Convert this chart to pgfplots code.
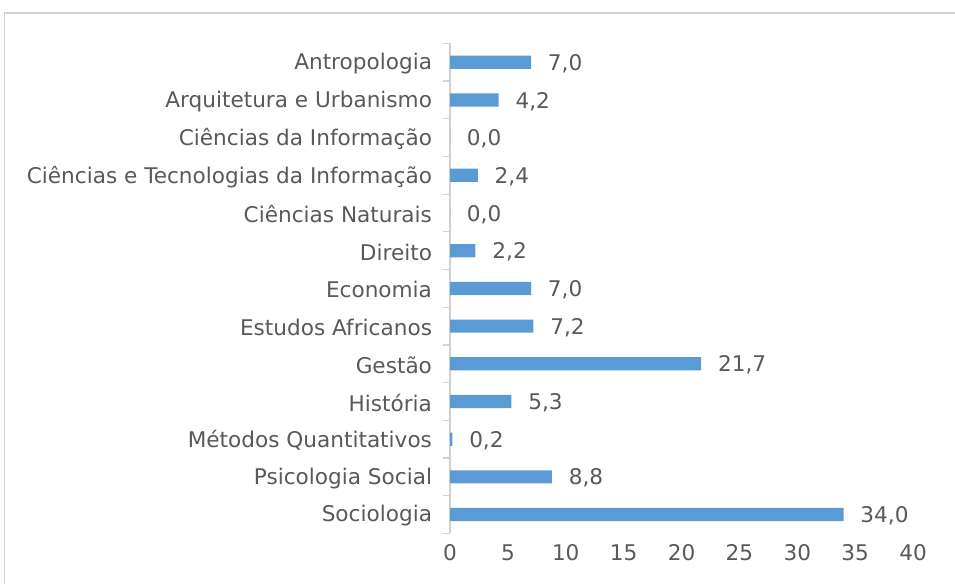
\documentclass[border=0pt]{standalone}
\usepackage{pgfplots}
\pgfplotsset{compat=1.18}
\usepackage{fontspec}
\setmainfont{DejaVu Sans}
\definecolor{barblue}{HTML}{5B9BD5}
\definecolor{txtgray}{HTML}{595959}
\definecolor{linegray}{HTML}{D0D0D0}
\begin{document}
\begin{tikzpicture}
\path[use as bounding box] (0,0) rectangle (716.25pt,437.25pt);
\clip (0,0) rectangle (716.25pt,437.25pt);
\draw[linegray, line width=1pt] (3.4pt,-10pt) -- (3.4pt,427.5pt) -- (730pt,427.5pt);
\begin{axis}[
  at={(337.5pt,37.2pt)}, anchor=south west,
  scale only axis, width=347.25pt, height=367.5pt,
  xmin=0, xmax=40, ymin=-0.5, ymax=12.5,
  y dir=reverse,
  xbar, bar width=0.35,
  axis y line*=left, axis x line*=bottom,
  x axis line style={draw=none},
  y axis line style={linegray, line width=0.9pt},
  xtick={0,5,...,40},
  ytick={0,...,12},
  yticklabels={Antropologia,Arquitetura e Urbanismo,Ciências da Informação,Ciências e Tecnologias da Informação,Ciências Naturais,Direito,Economia,Estudos Africanos,Gestão,História,Métodos Quantitativos,Psicologia Social,Sociologia},
  minor ytick={-0.5,0.5,...,12.5},
  major tick length=0pt,
  minor tick length=5.25pt,
  tick align=outside,
  minor tick style={linegray, line width=0.9pt},
  tick label style={font=\fontsize{16.2}{19}\selectfont, text=txtgray},
  yticklabel style={xshift=-10pt, yshift=-1pt},
  xticklabel style={yshift=-4.5pt, text height=12pt, text depth=0pt},
  /pgf/number format/assume math mode=true,
  nodes near coords={\pgfmathprintnumber[fixed,fixed zerofill,precision=1,use comma,assume math mode=true]{\pgfplotspointmeta}},
  every node near coord/.append style={font=\fontsize{16.2}{19}\selectfont, text=txtgray, anchor=west, inner sep=0pt, xshift=12.5pt, yshift=-1pt},
  clip=false,
]
\addplot[fill=barblue, draw=none] coordinates {
(7.0,0) (4.2,1) (0.0,2) (2.4,3) (0.0,4) (2.2,5) (7.0,6) (7.2,7) (21.7,8) (5.3,9) (0.2,10) (8.8,11) (34.0,12)
};
\end{axis}
\end{tikzpicture}
\end{document}
